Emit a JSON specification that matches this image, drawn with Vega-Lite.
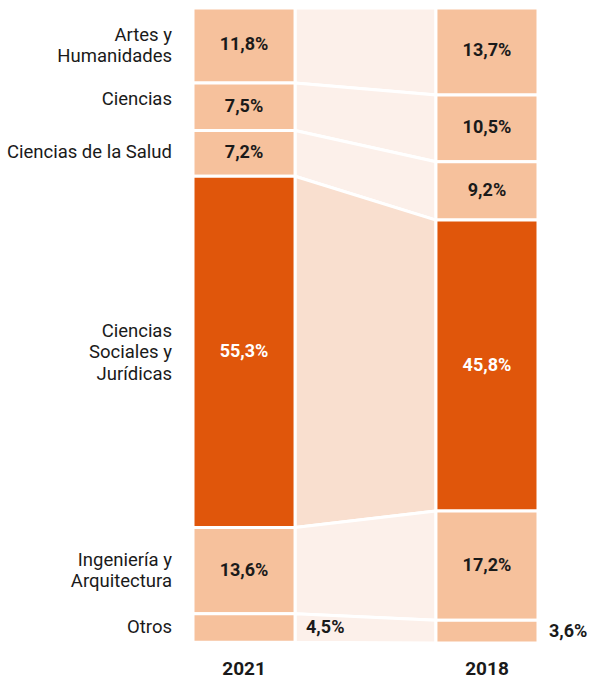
{
  "$schema": "https://vega.github.io/schema/vega-lite/v6.json",
  "width": 345,
  "height": 635,
  "autosize": {"type": "none"},
  "padding": {"left": 193, "top": 8, "right": 56, "bottom": 35},
  "background": "white",
  "config": {"view": {"stroke": null}, "font": "Roboto"},
  "data": {
    "values": [
      {"categoria": "Artes y\nHumanidades", "anio": "2021", "valor": 11.8, "orden": 1},
      {"categoria": "Artes y\nHumanidades", "anio": "2018", "valor": 13.7, "orden": 1},
      {"categoria": "Ciencias", "anio": "2021", "valor": 7.5, "orden": 2},
      {"categoria": "Ciencias", "anio": "2018", "valor": 10.5, "orden": 2},
      {"categoria": "Ciencias de la Salud", "anio": "2021", "valor": 7.2, "orden": 3},
      {"categoria": "Ciencias de la Salud", "anio": "2018", "valor": 9.2, "orden": 3},
      {"categoria": "Ciencias\nSociales y\nJurídicas", "anio": "2021", "valor": 55.3, "orden": 4},
      {"categoria": "Ciencias\nSociales y\nJurídicas", "anio": "2018", "valor": 45.8, "orden": 4},
      {"categoria": "Ingeniería y\nArquitectura", "anio": "2021", "valor": 13.6, "orden": 5},
      {"categoria": "Ingeniería y\nArquitectura", "anio": "2018", "valor": 17.2, "orden": 5},
      {"categoria": "Otros", "anio": "2021", "valor": 4.5, "orden": 6},
      {"categoria": "Otros", "anio": "2018", "valor": 3.6, "orden": 6}
    ]
  },
  "transform": [
    {"stack": "valor", "groupby": ["anio"], "sort": [{"field": "orden", "order": "ascending"}], "as": ["y0", "y1"]},
    {"calculate": "(datum.y0 + datum.y1) / 2", "as": "ymid"},
    {"calculate": "replace(format(datum.valor, '.1f'), '.', ',') + '%'", "as": "etiqueta"}
  ],
  "layer": [
    {
      "mark": {"type": "area", "stroke": "white", "strokeWidth": 3, "interpolate": "linear"},
      "encoding": {
        "x": {"field": "anio", "type": "ordinal", "sort": ["2021", "2018"], "scale": {"type": "point", "padding": 0.7234}, "axis": null},
        "y": {"field": "y0", "type": "quantitative", "scale": {"domain": [0, 100], "reverse": true, "nice": false, "zero": false}, "axis": null},
        "y2": {"field": "y1"},
        "detail": {"field": "categoria"},
        "fill": {"condition": {"test": "datum.orden == 4", "value": "#F9DFCF"}, "value": "#FCF0EA"}
      }
    },
    {
      "mark": {"type": "bar", "stroke": "white", "strokeWidth": 3},
      "encoding": {
        "x": {"field": "anio", "type": "ordinal", "sort": ["2021", "2018"], "scale": {"type": "band", "paddingInner": 0.58, "paddingOuter": 0},
          "axis": {"title": null, "domain": false, "ticks": false, "labelAngle": 0, "labelFontSize": 19, "labelFontWeight": "bold", "labelColor": "#1a1a1a", "labelPadding": 16}},
        "y": {"field": "y0", "type": "quantitative"},
        "y2": {"field": "y1"},
        "fill": {"condition": {"test": "datum.orden == 4", "value": "#E0560B"}, "value": "#F6C19C"}
      }
    },
    {
      "transform": [{"filter": "datum.orden != 6"}],
      "mark": {"type": "text", "fontSize": 18, "fontWeight": "bold", "baseline": "middle", "align": "center"},
      "encoding": {
        "x": {"field": "anio", "type": "ordinal", "sort": ["2021", "2018"], "bandPosition": 0.5, "scale": {"type": "band", "paddingInner": 0.58, "paddingOuter": 0}, "axis": null},
        "y": {"field": "ymid", "type": "quantitative"},
        "text": {"field": "etiqueta"},
        "fill": {"condition": {"test": "datum.orden == 4", "value": "#ffffff"}, "value": "#1a1a1a"}
      }
    },
    {
      "transform": [{"filter": "datum.orden == 6"}],
      "mark": {"type": "text", "fontSize": 18, "fontWeight": "bold", "baseline": "middle", "align": "left", "dx": 11, "fill": "#1a1a1a"},
      "encoding": {
        "x": {"field": "anio", "type": "ordinal", "sort": ["2021", "2018"], "bandPosition": 1, "scale": {"type": "band", "paddingInner": 0.58, "paddingOuter": 0}, "axis": null},
        "y": {"field": "ymid", "type": "quantitative"},
        "text": {"field": "etiqueta"}
      }
    },
    {
      "transform": [{"filter": "datum.anio == '2021' && (datum.orden == 3 || datum.orden == 6)"}],
      "mark": {"type": "text", "fontSize": 18.5, "baseline": "middle", "align": "right", "dx": -21, "dy": -1, "fill": "#1a1a1a"},
      "encoding": {
        "x": {"field": "anio", "type": "ordinal", "sort": ["2021", "2018"], "bandPosition": 0, "scale": {"type": "band", "paddingInner": 0.58, "paddingOuter": 0}, "axis": null},
        "y": {"field": "ymid", "type": "quantitative"},
        "text": {"field": "categoria"}
      }
    },
    {
      "transform": [{"filter": "datum.anio == '2021' && (datum.orden == 1 || datum.orden == 5)"}],
      "mark": {"type": "text", "fontSize": 18.5, "baseline": "middle", "align": "right", "dx": -21, "dy": -10.5, "lineBreak": "\n", "lineHeight": 21, "fill": "#1a1a1a"},
      "encoding": {
        "x": {"field": "anio", "type": "ordinal", "sort": ["2021", "2018"], "bandPosition": 0, "scale": {"type": "band", "paddingInner": 0.58, "paddingOuter": 0}, "axis": null},
        "y": {"field": "ymid", "type": "quantitative"},
        "text": {"field": "categoria"}
      }
    },
    {
      "transform": [{"filter": "datum.anio == '2021' && datum.orden == 4"}],
      "mark": {"type": "text", "fontSize": 18.5, "baseline": "middle", "align": "right", "dx": -21, "dy": -21, "lineBreak": "\n", "lineHeight": 21.5, "fill": "#1a1a1a"},
      "encoding": {
        "x": {"field": "anio", "type": "ordinal", "sort": ["2021", "2018"], "bandPosition": 0, "scale": {"type": "band", "paddingInner": 0.58, "paddingOuter": 0}, "axis": null},
        "y": {"field": "ymid", "type": "quantitative"},
        "text": {"field": "categoria"}
      }
    },
    {
      "transform": [{"filter": "datum.anio == '2021' && datum.orden == 2"}],
      "mark": {"type": "text", "fontSize": 18.5, "baseline": "middle", "align": "right", "dx": -21, "dy": -8, "fill": "#1a1a1a"},
      "encoding": {
        "x": {"field": "anio", "type": "ordinal", "sort": ["2021", "2018"], "bandPosition": 0, "scale": {"type": "band", "paddingInner": 0.58, "paddingOuter": 0}, "axis": null},
        "y": {"field": "ymid", "type": "quantitative"},
        "text": {"field": "categoria"}
      }
    }
  ],
  "resolve": {"scale": {"x": "independent"}}
}
